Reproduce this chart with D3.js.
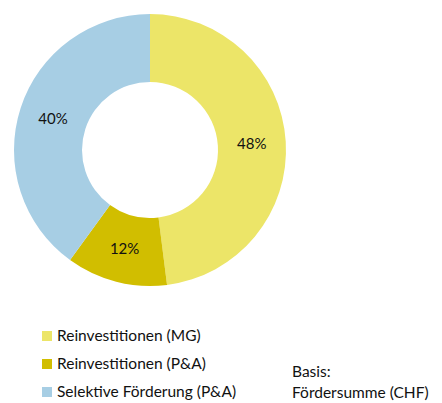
<!DOCTYPE html>
<html>
<head>
<meta charset="utf-8">
<script src="https://cdn.jsdelivr.net/npm/d3@7"></script>
<style>
  body { margin: 0; background: #fff; }
  text { font-family: Lato, "Open Sans", sans-serif; fill: #111; }
</style>
</head>
<body>
<div id="root"></div>
<script>
const categories = ['Reinvestitionen (MG)', 'Reinvestitionen (P&A)', 'Selektive Förderung (P&A)']
const shares = [48, 12, 40]
const colors = ['#ECE568', '#D1BE00', '#A7CEE4']
const noteLines = ['Basis:', 'Fördersumme (CHF)']

const width = 442
const height = 403

const svg = d3.select('#root').append('svg')
  .attr('width', width)
  .attr('height', height)

const data = categories.map((c, i) => ({ name: c, value: shares[i], color: colors[i] }))

// donut
const pie = d3.pie().value(d => d.value).sort(null)
const arc = d3.arc().innerRadius(68).outerRadius(136)

const donut = svg.append('g')
  .attr('transform', 'translate(150, 150)')

const arcs = pie(data)

donut.selectAll('path')
  .data(arcs)
  .enter()
  .append('path')
  .attr('d', arc)
  .attr('fill', d => d.data.color)

donut.selectAll('text')
  .data(arcs)
  .enter()
  .append('text')
  .attr('transform', d => `translate(${arc.centroid(d)})`)
  .attr('text-anchor', 'middle')
  .attr('dy', '0.35em')
  .style('font-size', '15px')
  .text(d => d.data.value + '%')

// legend
const legend = svg.append('g')
  .attr('transform', 'translate(42, 336)')

const item = legend.selectAll('g')
  .data(data)
  .enter()
  .append('g')
  .attr('transform', (d, i) => `translate(0, ${i * 28})`)

item.append('rect')
  .attr('x', 0)
  .attr('y', -5)
  .attr('width', 10)
  .attr('height', 10)
  .attr('fill', d => d.color)

item.append('text')
  .attr('x', 15)
  .attr('dy', '0.35em')
  .style('font-size', '15.5px')
  .text(d => d.name)

// note
svg.append('g')
  .attr('transform', 'translate(292, 372)')
  .selectAll('text')
  .data(noteLines)
  .enter()
  .append('text')
  .attr('y', (d, i) => i * 21)
  .attr('dy', '0.35em')
  .style('font-size', '15.5px')
  .text(d => d)
</script>
</body>
</html>
